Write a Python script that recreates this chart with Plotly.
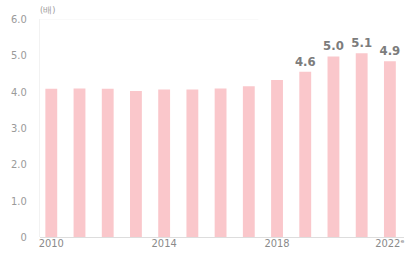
import plotly.graph_objects as go

years = ["2010", "2011", "2012", "2013", "2014", "2015", "2016", "2017", "2018", "2019", "2020", "2021", "2022e"]
values = [4.08, 4.09, 4.08, 4.02, 4.06, 4.06, 4.09, 4.15, 4.32, 4.55, 4.97, 5.06, 4.84]
value_labels = ["", "", "", "", "", "", "", "", "", "4.6", "5.0", "5.1", "4.9"]
y_ticks = [0, 1, 2, 3, 4, 5, 6]
y_tick_text = ["0", "1.0", "2.0", "3.0", "4.0", "5.0", "6.0"]
x_tick_vals = ["2010", "2014", "2018", "2022e"]
x_tick_text = ["2010", "2014", "2018", "2022ᵉ"]

fig = go.Figure()
fig.add_trace(go.Bar(
    x=years, y=values, text=value_labels, textposition="outside",
    texttemplate="<b>%{text}</b>", constraintext="none",
    textfont=dict(family="DejaVu Sans Condensed", size=13, color="#7c7c7c"),
    marker=dict(color="#fac7cb", line=dict(width=0)),
    width=0.42, cliponaxis=False,
))
fig.update_layout(
    width=406, height=255,
    margin=dict(l=40, r=2, t=19, b=18),
    paper_bgcolor="white", plot_bgcolor="white",
    showlegend=False,
    font=dict(family="DejaVu Sans Condensed", size=11, color="#9a9a9a"),
    xaxis=dict(
        type="category", tickvals=x_tick_vals, ticktext=x_tick_text,
        showgrid=False, showline=False, ticks="", ticklen=0,
        range=[-0.4, 12.5], ticklabelstandoff=-2,
        tickfont=dict(size=11, color="#8a8a8a"),
    ),
    yaxis=dict(
        range=[0, 6], tickvals=y_ticks, ticktext=y_tick_text,
        showgrid=False, zeroline=True, zerolinecolor="#dddddd", zerolinewidth=1,
        showline=True, linecolor="#f2f2f2", linewidth=1,
        ticks="", tickfont=dict(size=11, color="#9a9a9a"), ticklabelstandoff=10,
    ),
    shapes=[dict(type="line", xref="paper", yref="y", x0=0, x1=0.6, y0=6, y1=6,
                 line=dict(color="#f4f4f4", width=1))],
    annotations=[dict(text="(배)", xref="paper", yref="paper", x=0.0, y=1.0,
                      xanchor="left", yanchor="bottom", showarrow=False,
                      font=dict(size=9, color="#9a9a9a"), xshift=-2, yshift=2)],
)
fig.write_html("out.html", config={"displayModeBar": False},
               post_script="document.body.style.margin='0';")
